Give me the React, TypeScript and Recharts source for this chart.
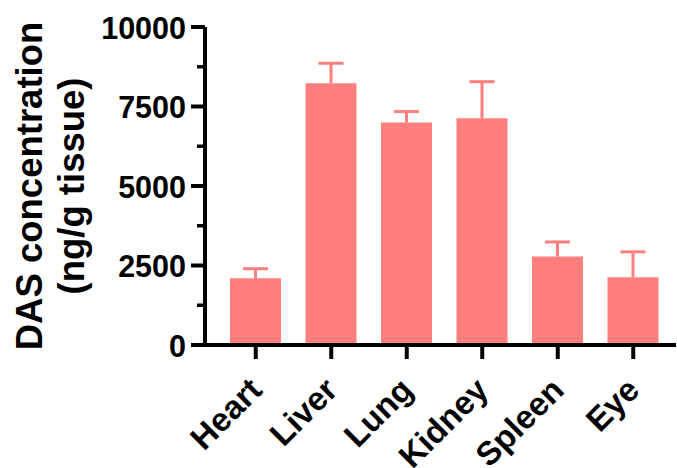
import React from "react";
import { BarChart, Bar, XAxis, YAxis, Rectangle } from "recharts";

const categories = ["Heart", "Liver", "Lung", "Kidney", "Spleen", "Eye"];
const means = [2100, 8230, 7000, 7130, 2780, 2130];
const sdUp = [300, 630, 340, 1150, 460, 800];
const yTicks = [0, 1250, 2500, 3750, 5000, 6250, 7500, 8750, 10000];
const yLabelTicks = [0, 2500, 5000, 7500, 10000];

const data = categories.map((name, i) => ({
  name,
  value: means[i],
  sd: sdUp[i],
}));

const BAR_COLOR = "#FF7F7F";
const FONT = "'Liberation Sans', Arial, sans-serif";

const YTick = (props: any) => {
  const { x, y, payload } = props;
  const major = yLabelTicks.includes(payload.value);
  return (
    <g>
      <line x1={x} x2={x - (major ? 14 : 8)} y1={y} y2={y} stroke="#000" strokeWidth={major ? 4 : 3.5} />
      {major && (
        <text x={x - 19} y={y + 11.5} textAnchor="end" fontFamily={FONT} fontWeight="bold" fontSize={30.5} fill="#000">
          {payload.value}
        </text>
      )}
    </g>
  );
};

const XTick = (props: any) => {
  const { x, y, payload } = props;
  const ax = x + 8;
  const ay = y + 47;
  return (
    <g>
      <line x1={x} x2={x} y1={y} y2={y + 14} stroke="#000" strokeWidth={4} />
      <text
        x={ax}
        y={ay}
        textAnchor="end"
        transform={`rotate(-45, ${ax}, ${ay})`}
        fontFamily={FONT}
        fontWeight="bold"
        fontSize={33}
        fill="#000"
      >
        {payload.value}
      </text>
    </g>
  );
};

// Bar with an upward-only SD whisker, scaled from the bar's own pixel geometry.
const BarWithErr = (props: any) => {
  const { x, y, width, height, payload } = props;
  const pxPerUnit = height / payload.value;
  const topY = y - payload.sd * pxPerUnit;
  const cx = x + width / 2;
  const cap = 12.5;
  return (
    <g>
      <Rectangle x={x} y={y} width={width} height={height} fill={BAR_COLOR} />
      <line x1={cx} x2={cx} y1={y} y2={topY} stroke={BAR_COLOR} strokeWidth={3} />
      <line x1={cx - cap} x2={cx + cap} y1={topY} y2={topY} stroke={BAR_COLOR} strokeWidth={3} />
    </g>
  );
};

export default function App() {
  return (
    <div style={{ position: "absolute", left: 0, top: 0, width: 677, height: 468, background: "#fff" }}>
      <BarChart
        width={677}
        height={468}
        data={data}
        margin={{ top: 27, right: 1, bottom: 23, left: 125 }}
        barSize={51}
      >
        <XAxis
          dataKey="name"
          height={100}
          padding={{ left: 13, right: 5 }}
          axisLine={{ stroke: "#000", strokeWidth: 4 }}
          tickLine={false}
          tickSize={0}
          tickMargin={0}
          interval={0}
          tick={<XTick />}
        />
        <YAxis
          width={80}
          domain={[0, 10000]}
          ticks={yTicks}
          interval={0}
          axisLine={{ stroke: "#000", strokeWidth: 4 }}
          tickLine={false}
          tickSize={0}
          tickMargin={0}
          tick={<YTick />}
        />
        <Bar dataKey="value" fill={BAR_COLOR} isAnimationActive={false} shape={<BarWithErr />} />
        <text transform="rotate(-90, 42, 186)" x={42} y={186} textAnchor="middle" fontFamily={FONT} fontWeight="bold" fontSize={36.5} fill="#000">
          DAS concentration
        </text>
        <text transform="rotate(-90, 84, 186)" x={84} y={186} textAnchor="middle" fontFamily={FONT} fontWeight="bold" fontSize={36.5} fill="#000">
          (ng/g tissue)
        </text>
      </BarChart>
    </div>
  );
}
